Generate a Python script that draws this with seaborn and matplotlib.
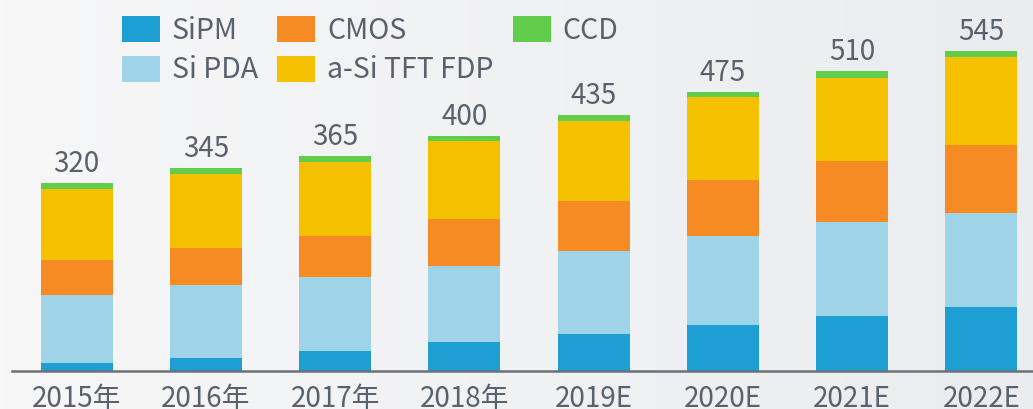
import numpy as np
import matplotlib
matplotlib.use("Agg")
import matplotlib.pyplot as plt
import seaborn as sns
from matplotlib.patches import Patch
from matplotlib.colors import LinearSegmentedColormap

# Market size by detector type (stacked), with yearly totals
years = ["2015年", "2016年", "2017年", "2018年", "2019E", "2020E", "2021E", "2022E"]
sipm = [12, 22, 33, 48, 63, 78, 93, 108]
si_pda = [117, 123, 126, 131, 140, 151, 161, 161]
cmos = [60, 64, 70, 79, 86, 96, 104, 115]
asi_tft_fdp = [121, 126, 126, 133, 136, 141, 141, 151]
ccd = [10, 10, 10, 9, 10, 9, 11, 10]
totals = [320, 345, 365, 400, 435, 475, 510, 545]

series_names = ["SiPM", "Si PDA", "CMOS", "a-Si TFT FDP", "CCD"]
series_values = [sipm, si_pda, cmos, asi_tft_fdp, ccd]
series_colors = ["#1d9fd3", "#9fd3e7", "#f68b24", "#f5c000", "#62cc4b"]

TEXT = "#59616c"
AXIS = "#6b7079"

sns.set_theme(style="white")
plt.rcParams["font.family"] = ["Noto Sans CJK SC", "DejaVu Sans"]

W, H = 1033, 409
fig = plt.figure(figsize=(W / 100, H / 100), dpi=100)

# soft horizontal background gradient
bg = fig.add_axes([0, 0, 1, 1], zorder=-10)
grad = LinearSegmentedColormap.from_list("bg", ["#f7f7f8", "#eaecef"])
bg.imshow(np.linspace(0, 1, 256)[None, :], aspect="auto", cmap=grad,
          extent=[0, 1, 0, 1])
bg.set_axis_off()

base_px = 370.5
px_per_unit = 0.5865
ax = fig.add_axes([12 / W, 1 - base_px / H, 1 - 12 / W, base_px / H])
ax.patch.set_alpha(0)

# stacked bars: paint cumulative heights from the top layer down
cum = np.cumsum(np.array(series_values), axis=0)
for k in range(len(series_names) - 1, -1, -1):
    sns.barplot(x=years, y=cum[k], order=years, color=series_colors[k],
                saturation=1, width=0.557, linewidth=0, ax=ax)

ax.set_xlim(-0.5, 7.40)
ax.set_ylim(0, base_px / px_per_unit)

for i, t in enumerate(totals):
    ax.text(i, t + 11 / px_per_unit, f"{t}", ha="center", va="baseline",
            fontsize=20, color=TEXT)

for s in ["left", "right", "top"]:
    ax.spines[s].set_visible(False)
ax.spines["bottom"].set_color(AXIS)
ax.spines["bottom"].set_linewidth(1.8)
ax.set_yticks([])
ax.tick_params(axis="x", length=0, pad=10, labelsize=20, labelcolor=TEXT)
ax.set_xlabel("")
ax.set_ylabel("")

handles = [Patch(facecolor=c, edgecolor="none") for c in series_colors]
leg = fig.legend(handles, series_names, ncol=3, loc="upper left",
                 bbox_to_anchor=(122 / W, 1 - 16 / H), frameon=False,
                 fontsize=20.5, handlelength=1.33, handleheight=1.02,
                 handletextpad=0.41, columnspacing=0.7, labelspacing=0.33,
                 borderpad=0, borderaxespad=0)
for txt in leg.get_texts():
    txt.set_color(TEXT)

fig.savefig("out.png", dpi=100)
